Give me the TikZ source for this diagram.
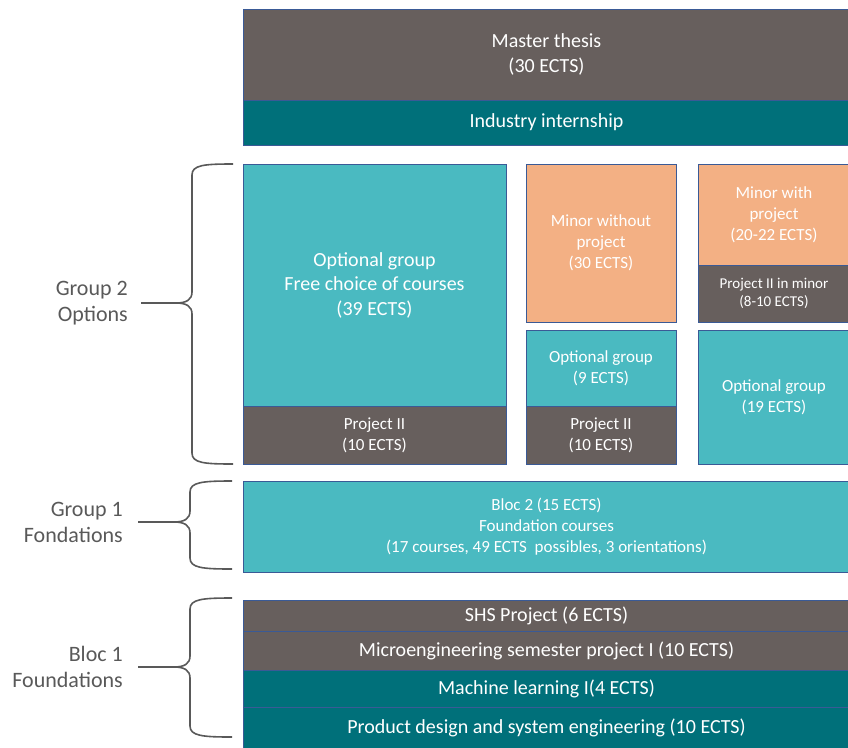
\documentclass[tikz,border=0pt]{standalone}
\usepackage{fontspec}
\setmainfont{Carlito}
\usetikzlibrary{positioning}
\definecolor{graybox}{HTML}{675F5D}
\definecolor{tealdark}{HTML}{00707A}
\definecolor{teallight}{HTML}{4ABAC1}
\definecolor{orangebox}{HTML}{F3B084}
\definecolor{edgeblue}{HTML}{3A5A96}
\definecolor{bracegray}{HTML}{595959}
\tikzset{
  blk/.style={draw=edgeblue, line width=0.9pt, text=white, align=center,
    inner sep=0pt, outer sep=0pt, anchor=north west},
  big/.style={font=\fontsize{20}{24.5}\selectfont},
  mid/.style={font=\fontsize{17}{21}\selectfont},
  sml/.style={font=\fontsize{15}{18}\selectfont},
  lbl/.style={align=right, anchor=east, text=bracegray, inner sep=0pt,
    font=\fontsize{22}{26}\selectfont},
  brc/.style={draw=bracegray, line width=1.6pt}
}
\begin{document}
\begin{tikzpicture}[x=1pt, y=-1pt]
  \path [use as bounding box, clip] (0,0) rectangle (848,747);
  % top
  \node [blk, big, fill=graybox, minimum width=607pt, minimum height=91pt] (thesis) at (243,9) {Master thesis\\(30 ECTS)};
  \node [blk, big, fill=tealdark, minimum width=607pt, minimum height=45pt] (intern) at (243,100) {Industry internship};
  % group 2
  \node [blk, big, fill=teallight, minimum width=263pt, minimum height=242pt] (optbig) at (243,164) {Optional group\\Free choice of courses\\(39 ECTS)};
  \node [blk, mid, fill=graybox, minimum width=263pt, minimum height=58pt] (projA) at (243,406) {Project II\\(10 ECTS)};
  \node [blk, mid, fill=orangebox, minimum width=150pt, minimum height=158pt] (minorA) at (526,164) {Minor without\\project\\(30 ECTS)};
  \node [blk, mid, fill=teallight, minimum width=150pt, minimum height=76pt] (opt9) at (526,330) {Optional group\\(9 ECTS)};
  \node [blk, mid, fill=graybox, minimum width=150pt, minimum height=58pt] (projB) at (526,406) {Project II\\(10 ECTS)};
  \node [blk, mid, fill=orangebox, minimum width=152pt, minimum height=101pt] (minorB) at (698,164) {Minor with\\project\\(20-22 ECTS)};
  \node [blk, sml, fill=graybox, minimum width=152pt, minimum height=57pt] (projM) at (698,265) {Project II in minor\\(8-10 ECTS)};
  \node [blk, mid, fill=teallight, minimum width=152pt, minimum height=134pt] (opt19) at (698,330) {Optional group\\(19 ECTS)};
  % group 1
  \node [blk, mid, fill=teallight, minimum width=607pt, minimum height=91pt] (bloc2) at (243,481) {Bloc 2 (15 ECTS)\\Foundation courses\\(17 courses, 49 ECTS~ possibles, 3 orientations)};
  % bloc 1
  \node [blk, big, fill=graybox, minimum width=607pt, minimum height=31pt] (shs) at (243,600) {SHS Project (6 ECTS)};
  \node [blk, big, fill=graybox, minimum width=607pt, minimum height=39pt] (micro) at (243,631) {Microengineering semester project I (10 ECTS)};
  \node [blk, big, fill=tealdark, minimum width=607pt, minimum height=37pt] (mlearn) at (243,670) {Machine learning I(4 ECTS)};
  \node [blk, big, fill=tealdark, minimum width=607pt, minimum height=41pt] (pdse) at (243,707) {Product design and system engineering (10 ECTS)};
  % braces
  \coordinate (g2tip) at (141,303);
  \coordinate (g1tip) at (138,522);
  \coordinate (b1tip) at (138,667);
  \draw [brc] (233,164) .. controls (204,164) and (192,165) .. (192,175) -- (192,292) .. controls (192,300) and (186,303) .. (176,303) -- (g2tip);
  \draw [brc] (233,464) .. controls (204,464) and (192,463) .. (192,453) -- (192,314) .. controls (192,306) and (186,303) .. (176,303);
  \draw [brc] (232,481) .. controls (203,481) and (190,482) .. (190,492) -- (190,511) .. controls (190,519) and (184,522) .. (174,522) -- (g1tip);
  \draw [brc] (232,569) .. controls (203,569) and (190,568) .. (190,558) -- (190,533) .. controls (190,525) and (184,522) .. (174,522);
  \draw [brc] (232,598) .. controls (203,598) and (190,599) .. (190,609) -- (190,656) .. controls (190,664) and (184,667) .. (174,667) -- (b1tip);
  \draw [brc] (232,737) .. controls (203,737) and (190,736) .. (190,726) -- (190,678) .. controls (190,670) and (184,667) .. (174,667);
  % labels
  \node [lbl, left=13pt of g2tip] (g2lbl) {Group 2\\Options};
  \node [lbl, left=15pt of g1tip] (g1lbl) {Group 1\\Fondations};
  \node [lbl, left=15pt of b1tip] (b1lbl) {Bloc 1\\Foundations};
\end{tikzpicture}
\end{document}
